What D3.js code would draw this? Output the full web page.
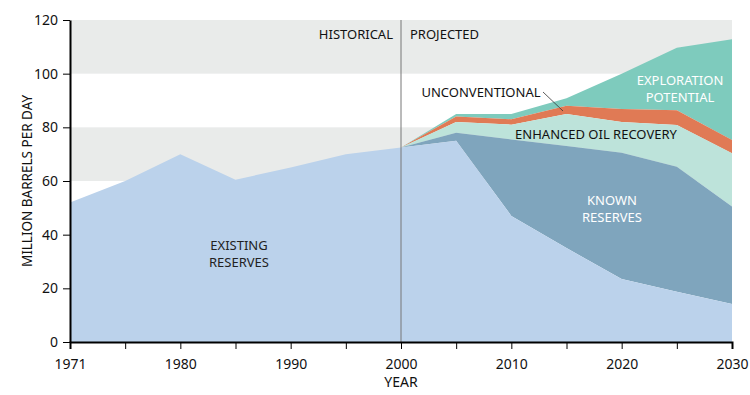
<!DOCTYPE html>
<html>
<head>
<meta charset="utf-8">
<script src="https://cdn.jsdelivr.net/npm/d3@7"></script>
<style>
  body { margin: 0; background: #fff; }
  svg { display: block; }
  svg text { font-family: "Noto Sans", "Open Sans", sans-serif; }
  .axis path, .axis line { stroke: #000; }
  .axis text { font-size: 14px; fill: #111; }
  .lbl { font-size: 13px; }
</style>
</head>
<body>
<svg id="chart" width="750" height="395"></svg>
<script>
// ── Data ───────────────────────────────────────────────────
const years = [1971, 1975, 1980, 1985, 1990, 1995, 2000, 2005, 2010, 2015, 2020, 2025, 2030];
const tickYears = [1971, 1980, 1990, 2000, 2010, 2020, 2030];
const yTicks = [0, 20, 40, 60, 80, 100, 120];

// cumulative top edge of each layer (million barrels per day)
const existingReserves = [52, 60, 70, 60.5, 65, 70, 72.5, 75, 47, 35, 23.5, 18.7, 14.2];
const knownReserves    = [null, null, null, null, null, null, 72.5, 78, 75.5, 73, 70.5, 65.3, 50.5];
const enhancedRecovery = [null, null, null, null, null, null, 72.5, 82, 81, 85, 82, 80.9, 70.3];
const unconventional   = [null, null, null, null, null, null, 72.5, 84, 83, 88, 86.8, 86.4, 75.3];
const exploration      = [null, null, null, null, null, null, 72.5, 85, 85, 90.8, 100, 109.7, 112.8];

const bands = [[60, 80], [100, 120]];

// ── Layout ─────────────────────────────────────────────────
const M = { left: 70, right: 18, top: 20, bottom: 53 };
const W = 750, H = 395;

const svg = d3.select('#chart');

const x = d3.scalePoint()
  .domain(years)
  .range([M.left, W - M.right]);

const y = d3.scaleLinear()
  .domain([0, 120])
  .range([H - M.bottom, M.top]);

// background bands
svg.append('g').selectAll('rect')
  .data(bands)
  .enter()
  .append('rect')
  .attr('x', M.left)
  .attr('width', x(2030) - M.left)
  .attr('y', d => y(d[1]))
  .attr('height', d => y(d[0]) - y(d[1]))
  .attr('fill', '#e9ebea');

// ── Areas ──────────────────────────────────────────────────
function layer(top, bottom) {
  const rows = years.map((yr, i) => ({ yr, t: top[i], b: bottom ? bottom[i] : 0 }))
    .filter(d => d.t != null && d.b != null);
  return d3.area()
    .x(d => x(d.yr))
    .y0(d => y(d.b))
    .y1(d => y(d.t))(rows);
}

const layers = [
  { top: exploration,      bottom: unconventional,   fill: '#7ecbbd' },
  { top: unconventional,   bottom: enhancedRecovery, fill: '#e07a55' },
  { top: enhancedRecovery, bottom: knownReserves,    fill: '#bde3da' },
  { top: knownReserves,    bottom: existingReserves, fill: '#7fa5bd' },
  { top: existingReserves, bottom: null,             fill: '#bbd2eb' }
];

svg.append('g').selectAll('path')
  .data(layers)
  .enter()
  .append('path')
  .attr('d', d => layer(d.top, d.bottom))
  .attr('fill', d => d.fill);

// historical / projected divider
svg.append('line')
  .attr('x1', x(2000)).attr('x2', x(2000))
  .attr('y1', y(120)).attr('y2', y(0))
  .attr('stroke', '#777')
  .attr('stroke-width', 1);

svg.append('text').attr('class', 'lbl')
  .attr('x', x(2000) - 8).attr('y', 39)
  .attr('text-anchor', 'end')
  .attr('fill', '#111')
  .text('HISTORICAL');

svg.append('text').attr('class', 'lbl')
  .attr('x', x(2000) + 9).attr('y', 39)
  .attr('fill', '#111')
  .text('PROJECTED');

// ── Axes ───────────────────────────────────────────────────
svg.append('g')
  .attr('class', 'axis')
  .attr('transform', `translate(0,${y(0)})`)
  .call(d3.axisBottom(x)
    .tickSizeOuter(0)
    .tickSize(7)
    .tickPadding(10)
    .tickFormat(d => tickYears.includes(d) ? d : ''))
  .call(g => g.select('.domain').attr('stroke-width', 2));

svg.append('g')
  .attr('class', 'axis')
  .attr('transform', `translate(${M.left},0)`)
  .call(d3.axisLeft(y).tickValues(yTicks).tickSize(7).tickSizeOuter(0).tickPadding(5))
  .call(g => g.select('.domain').attr('stroke-width', 2));

svg.append('text')
  .attr('x', x(2000)).attr('y', 387)
  .attr('text-anchor', 'middle')
  .attr('font-size', 14)
  .attr('fill', '#111')
  .text('YEAR');

svg.append('text')
  .attr('transform', `translate(32,${(y(0) + y(120)) / 2}) rotate(-90)`)
  .attr('text-anchor', 'middle')
  .attr('font-size', 13.5)
  .attr('fill', '#111')
  .text('MILLION BARRELS PER DAY');

// ── Area labels ────────────────────────────────────────────
const labels = [
  { lines: ['EXISTING', 'RESERVES'], x: 239, y: 250, fill: '#222' },
  { lines: ['KNOWN', 'RESERVES'], x: 612, y: 205, fill: '#fff' },
  { lines: ['ENHANCED OIL RECOVERY'], x: 596, y: 139, fill: '#111' },
  { lines: ['EXPLORATION', 'POTENTIAL'], x: 680, y: 85, fill: '#fff' },
  { lines: ['UNCONVENTIONAL'], x: 481, y: 97, fill: '#111' }
];

labels.forEach(l => {
  l.lines.forEach((s, i) => {
    svg.append('text').attr('class', 'lbl')
      .attr('x', l.x).attr('y', l.y + i * 16.5)
      .attr('text-anchor', 'middle')
      .attr('fill', l.fill)
      .text(s);
  });
});

// leader for unconventional
svg.append('line')
  .attr('x1', 543).attr('y1', 92)
  .attr('x2', 563).attr('y2', 111)
  .attr('stroke', '#333')
  .attr('stroke-width', 0.8);
</script>
</body>
</html>
